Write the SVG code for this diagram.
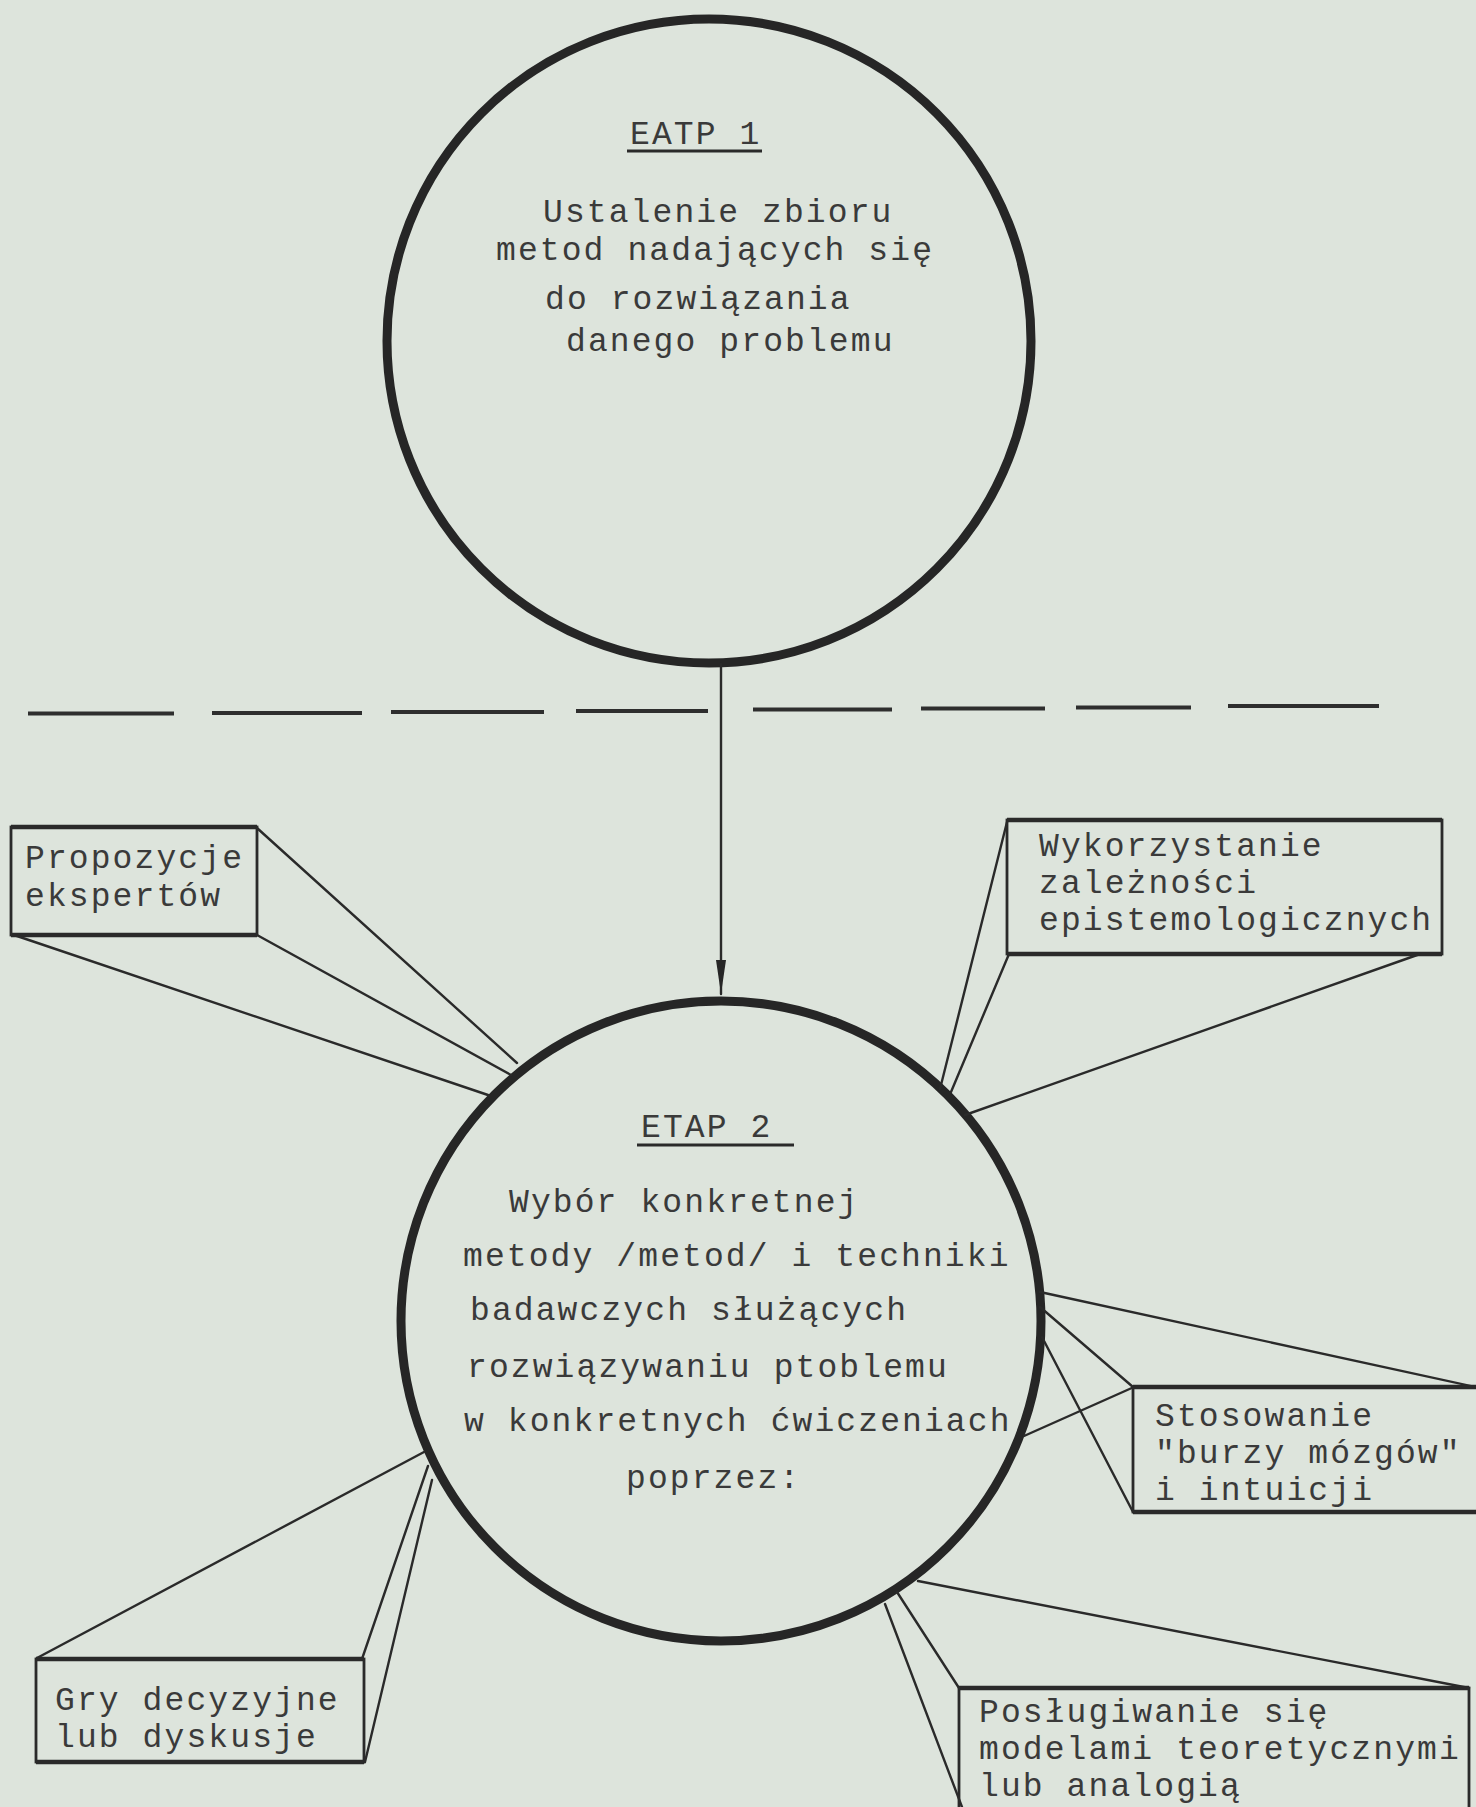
<svg xmlns="http://www.w3.org/2000/svg" width="1476" height="1807" viewBox="0 0 1476 1807">
  <defs>
    <style>
      .paper { fill: #dde4dc; }
      .stage { fill: none; stroke: #262626; stroke-width: 9; }
      .box { fill: none; stroke: #2a2a2a; stroke-width: 2.8; }
      .edge { fill: none; stroke: #2a2a2a; stroke-width: 4.5; }
      .link { fill: none; stroke: #2a2a2a; stroke-width: 2.4; stroke-linecap: round; }
      .rule { stroke: #2a2a2a; stroke-width: 3; }
      .dash { stroke: #2e2e2e; stroke-width: 4; }
      text { font-family: "Liberation Mono", "DejaVu Sans Mono", monospace; font-size: 33px; letter-spacing: 2.1px; fill: #3a3a3a; }
    </style>
    <marker id="head" viewBox="0 -6 34 12" refX="34" refY="0" markerWidth="34" markerHeight="12" markerUnits="userSpaceOnUse" orient="auto">
      <path d="M0,-5 L34,0 L0,5 Z" fill="#262626"/>
    </marker>
  </defs>

  <rect class="paper" width="1476" height="1807"/>

  <!-- stage 1 -->
  <g id="etap1">
    <ellipse class="stage" cx="709" cy="341" rx="322" ry="322"/>
    <text x="630" y="144">EATP 1</text>
    <line class="rule" x1="627" y1="151" x2="762" y2="151"/>
    <text x="543" y="222">Ustalenie zbioru</text>
    <text x="496" y="260">metod nadających się</text>
    <text x="545" y="309">do rozwiązania</text>
    <text x="566" y="351">danego problemu</text>
  </g>

  <!-- separator between the stages -->
  <g id="separator">
    <line class="dash" x1="28" y1="713.5" x2="174" y2="713.5"/>
    <line class="dash" x1="212" y1="713" x2="362" y2="713"/>
    <line class="dash" x1="391" y1="712" x2="544" y2="712"/>
    <line class="dash" x1="576" y1="711" x2="708" y2="711"/>
    <line class="dash" x1="753" y1="709.5" x2="892" y2="709.5"/>
    <line class="dash" x1="921" y1="708.5" x2="1045" y2="708.5"/>
    <line class="dash" x1="1076" y1="707.5" x2="1191" y2="707.5"/>
    <line class="dash" x1="1228" y1="706" x2="1379" y2="706"/>
  </g>

  <!-- stage 2 -->
  <g id="etap2">
    <ellipse class="stage" cx="721" cy="1321" rx="320" ry="320"/>
    <text x="641" y="1137">ETAP 2</text>
    <line class="rule" x1="637" y1="1145" x2="794" y2="1145"/>
    <text x="509" y="1212">Wybór konkretnej</text>
    <text x="463" y="1266">metody /metod/ i techniki</text>
    <text x="470" y="1320">badawczych służących</text>
    <text x="467" y="1377">rozwiązywaniu ptoblemu</text>
    <text x="464" y="1431">w konkretnych ćwiczeniach</text>
    <text x="626" y="1488">poprzez:</text>
  </g>

  <g id="box-propozycje">
    <rect class="box" x="11" y="827" width="246" height="108"/>
    <path class="edge" d="M11,827 H257 M11,935 H257"/>
    <text x="25" y="868">Propozycje</text>
    <text x="25" y="906">ekspertów</text>
  </g>

  <g id="box-wykorzystanie">
    <rect class="box" x="1007" y="820" width="435" height="134"/>
    <path class="edge" d="M1007,820 H1442 M1007,954 H1442"/>
    <text x="1039" y="856">Wykorzystanie</text>
    <text x="1039" y="893">zależności</text>
    <text x="1039" y="930">epistemologicznych</text>
  </g>

  <g id="box-stosowanie">
    <rect class="box" x="1133" y="1387" width="360" height="125"/>
    <path class="edge" d="M1133,1387 H1493 M1133,1512 H1493"/>
    <text x="1155" y="1426">Stosowanie</text>
    <text x="1155" y="1463">"burzy mózgów"</text>
    <text x="1155" y="1500">i intuicji</text>
  </g>

  <g id="box-poslugiwanie">
    <rect class="box" x="959" y="1688" width="510" height="140"/>
    <path class="edge" d="M959,1688 H1469"/>
    <text x="979" y="1722">Posługiwanie się</text>
    <text x="979" y="1759">modelami teoretycznymi</text>
    <text x="979" y="1796">lub analogią</text>
  </g>

  <g id="box-gry">
    <rect class="box" x="36" y="1659" width="328" height="103"/>
    <path class="edge" d="M36,1659 H364 M36,1762 H364"/>
    <text x="55" y="1710">Gry decyzyjne</text>
    <text x="55" y="1747">lub dyskusje</text>
  </g>

  <!-- connectors -->
  <g id="connectors">
    <line class="link" x1="721" y1="664" x2="721" y2="994" marker-end="url(#head)"/>

    <line class="link" x1="257" y1="828" x2="517" y2="1063"/>
    <line class="link" x1="257" y1="935" x2="511" y2="1075"/>
    <line class="link" x1="14" y1="935" x2="488" y2="1095"/>

    <line class="link" x1="1007" y1="822" x2="940" y2="1089"/>
    <line class="link" x1="1009" y1="954" x2="951" y2="1092"/>
    <line class="link" x1="1420" y1="954" x2="965" y2="1115"/>

    <line class="link" x1="1040" y1="1292" x2="1480" y2="1388"/>
    <line class="link" x1="1040" y1="1307" x2="1133" y2="1387"/>
    <line class="link" x1="1042" y1="1337" x2="1133" y2="1512"/>
    <line class="link" x1="1024" y1="1436" x2="1134" y2="1387"/>

    <line class="link" x1="918" y1="1581" x2="1469" y2="1688"/>
    <line class="link" x1="897" y1="1592" x2="959" y2="1688"/>
    <line class="link" x1="885" y1="1604" x2="962" y2="1807"/>

    <line class="link" x1="424" y1="1452" x2="37" y2="1658"/>
    <line class="link" x1="428" y1="1466" x2="362" y2="1659"/>
    <line class="link" x1="432" y1="1480" x2="365" y2="1762"/>
  </g>
</svg>
